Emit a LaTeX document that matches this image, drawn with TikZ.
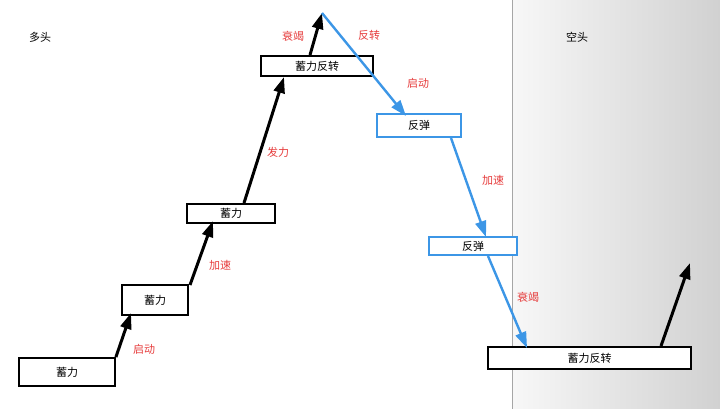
\documentclass[tikz,border=0pt]{standalone}
\usepackage{fontspec}
\newfontfamily\cjk{Noto Sans CJK SC}
\usetikzlibrary{arrows.meta}
\begin{document}
\begin{tikzpicture}[x=1pt,y=-1pt,
  bbox/.style={draw=black,line width=1.8pt,fill=white,inner sep=0pt,font=\cjk\fontsize{11}{11}\selectfont},
  blbox/.style={draw={rgb,255:red,60;green,150;blue,230},line width=1.8pt,fill=white,inner sep=0pt,font=\cjk\fontsize{11}{11}\selectfont},
  lbl/.style={text={rgb,255:red,230;green,60;blue,60},font=\cjk\fontsize{11}{11}\selectfont},
  hd/.style={font=\cjk\fontsize{11}{11}\selectfont},
  barr/.style={line width=3pt,-{Triangle[width=11pt,length=16pt]}},
  blarr/.style={barr,draw={rgb,255:red,60;green,150;blue,230},line width=2.4pt}]
\useasboundingbox (0,0) rectangle (720,409);
\shade[left color=white!97!black,right color=white!82!black] (512,0) rectangle (720,409);
\draw[gray!70,line width=1pt] (512,0) -- (512,409);
\node[hd] (h1) at (40,37) {多头};
\node[hd] (h2) at (577,37) {空头};
\node[bbox,minimum width=96pt,minimum height=28pt] (b1) at (67,372) {蓄力};
\node[bbox,minimum width=66pt,minimum height=30pt] (b2) at (155,300) {蓄力};
\node[bbox,minimum width=88pt,minimum height=19pt] (b3) at (231,213.5) {蓄力};
\node[bbox,minimum width=112pt,minimum height=20pt] (b4) at (317,66) {蓄力反转};
\node[blbox,minimum width=84pt,minimum height=23pt] (b5) at (419,125.5) {反弹};
\node[blbox,minimum width=88pt,minimum height=18pt] (b6) at (473,246) {反弹};
\node[bbox,minimum width=203pt,minimum height=22pt] (b7) at (589.5,358) {蓄力反转};
\coordinate (t1) at (322,13);
\coordinate (t2) at (690,263);
\draw[barr] (b1.north east) -- (131,313);
\draw[barr] (190,285) -- (213,221);
\draw[barr] (244,203) -- (284,77);
\draw[barr] (310,55) -- (t1);
\draw[blarr] (t1) -- (406,116);
\draw[blarr] (451,138) -- (486,237);
\draw[blarr] (488,256) -- (527,348);
\draw[barr] (661,346) -- (t2);
\node[lbl] (l1) at (144,349) {启动};
\node[lbl] (l2) at (220,265) {加速};
\node[lbl] (l3) at (278,152) {发力};
\node[lbl] (l4) at (293,36) {衰竭};
\node[lbl] (l5) at (369,35) {反转};
\node[lbl] (l6) at (418,83) {启动};
\node[lbl] (l7) at (493,180) {加速};
\node[lbl] (l8) at (528,297) {衰竭};
\end{tikzpicture}
\end{document}
